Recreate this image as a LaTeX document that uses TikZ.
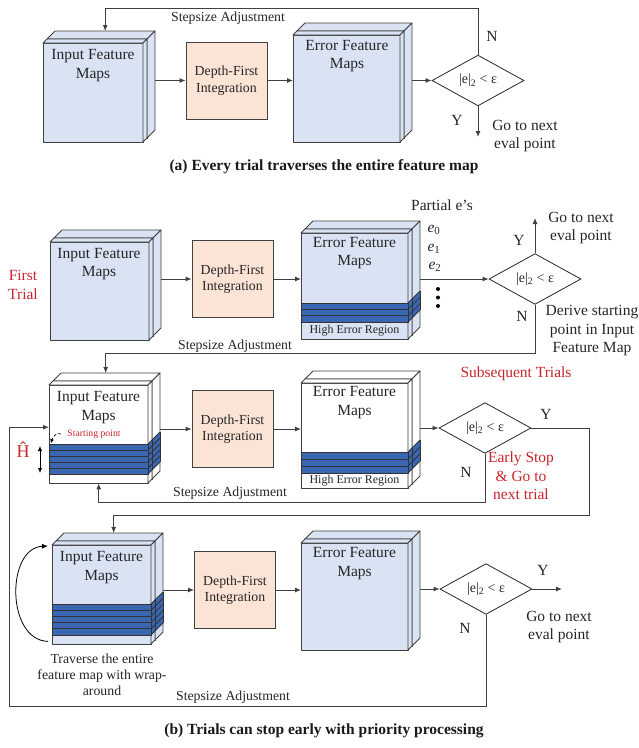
\documentclass[tikz,border=0pt]{standalone}
\usepackage{fontspec}
\setmainfont{Liberation Serif}
\usetikzlibrary{arrows.meta,shapes.geometric}

\definecolor{fmblue}{HTML}{DAE3F3}
\definecolor{dfpeach}{HTML}{FBE3D6}
\definecolor{hiblue}{HTML}{3A66B2}
\definecolor{trialred}{HTML}{C9252C}
\definecolor{linegray}{HTML}{404040}

% cuboide: x, y, largura, altura, profundidade, cor
\newcommand{\cuboide}[6]{%
  \draw[face,fill=#6] (#1,#2) rectangle ++(#3,#4);
  \draw[face,fill=#6] (#1,#2) -- ++(#5,-#5) -- ++(#3,0) -- ++(-#5,#5) -- cycle;
  \draw[face,fill=#6] ({#1+#3},#2) -- ++(#5,-#5) -- ++(0,#4) -- ++(-#5,#5) -- cycle;
}

% pilha de mapas: nome, x, y, largura, altura, cor
\newcommand{\pilha}[6]{%
  \cuboide{#2+4}{#3-4}{#4}{#5}{8}{#6}
  \cuboide{#2}{#3}{#4}{#5}{4}{#6}
  \node[inner sep=0pt,minimum width=#4,minimum height=#5,anchor=north west] (#1) at (#2,#3) {};
  \node[inner sep=0pt,minimum width=#4,minimum height=#5,anchor=north west] (#1-b) at (#2+12,#3-12) {};
}

% faixas de erro alto: x, y, largura, n, altura da faixa
\newcommand{\faixas}[5]{%
  \fill[hiblue] ({#1+#3},#2) -- ++(12,-12) -- ++(0,{#4*#5}) -- ++(-12,12) -- cycle;
  \foreach \k in {0,...,#4}{
    \draw[band] ({#1+#3},{#2+\k*#5}) -- ++(12,-12);
  }
  \draw[band] ({#1+#3+4},{#2-4}) -- ++(0,{#4*#5});
  \draw[band] ({#1+#3+12},{#2-12}) -- ++(0,{#4*#5});
  \foreach \k in {1,...,#4}{
    \draw[band,fill=hiblue] (#1,{#2+(\k-1)*#5}) rectangle ++(#3,#5);
  }
}

\begin{document}
\begin{tikzpicture}[x=1pt,y=-1pt]
\tikzset{
  face/.style={draw=linegray,line width=0.8pt,line join=round},
  band/.style={draw=black!80,line width=0.8pt},
  dfi/.style={draw=linegray,line width=0.9pt,fill=dfpeach,minimum width=81,minimum height=77,
    align=center,text=black!85,font=\fontsize{13.8}{16.5}\selectfont},
  decisao/.style={draw=black!85,line width=0.8pt,shape=diamond,minimum width=92,minimum height=42,
    inner sep=0pt,text=black!85,font=\fontsize{14}{16}\selectfont},
  arr/.style={draw=linegray,line width=0.9pt,-{Latex[length=6pt,width=5pt]}},
  dbl/.style={draw=black,line width=0.9pt,{Latex[length=5pt,width=4.5pt]}-{Latex[length=5pt,width=4.5pt]}},
  lbl/.style={text=black!85,font=\fontsize{15.5}{18.5}\selectfont,align=center},
  mid/.style={text=black!85,font=\fontsize{13.8}{16}\selectfont,align=center},
  small/.style={text=black!85,font=\fontsize{12}{14}\selectfont},
  rtxt/.style={text=trialred},
  captxt/.style={text=black!90,font=\bfseries\fontsize{15.5}{18}\selectfont}
}
\useasboundingbox (0,0) rectangle (639,748);

% (a) todas as tentativas percorrem o mapa inteiro
\pilha{inA}{43}{43}{100}{99}{fmblue}
\node[lbl] (tInA) at (93,65.5) {Input Feature\\Maps};
\node[dfi] (dfiA) at (226.5,80.5) {Depth-First\\Integration};
\pilha{errA}{293}{35}{107}{107}{fmblue}
\node[lbl] (tErrA) at (347,56) {Error Feature\\Maps};
\node[decisao] (decA) at (478,80.5) {|e|\textsubscript{2} < ε};

\draw[arr] (dfiA.west -| inA-b.east) -- (dfiA.west);
\draw[arr] (dfiA.east) -- (dfiA.east -| errA.west);
\draw[arr] (decA.west -| errA-b.east) -- (decA.west);

\coordinate (fbA) at (478,8);
\draw[arr] (decA.north) -- (fbA) -| (inA-b.north);
\node[mid] (sA) at (228,18) {Stepsize Adjustment};
\node[lbl] (nA) at (492,36) {N};
\coordinate (yA) at (478,137);
\draw[arr] (decA.south) -- (yA);
\node[lbl] (yAl) at (457,120) {Y};
\node[lbl] (goA) at (525,136) {Go to next\\eval point};
\node[captxt] (capA) at (324,167) {(a) Every trial traverses the entire feature map};

% (b) primeira tentativa
\pilha{inB}{50}{242}{99}{98}{fmblue}
\node[lbl] (tInB) at (99,264) {Input Feature\\Maps};
\node[lbl,rtxt] (first) at (23,285) {First\\Trial};
\node[dfi] (dfiB) at (232.5,279) {Depth-First\\Integration};
\pilha{errB}{301}{233}{107}{106}{fmblue}
\faixas{301}{303}{107}{3}{6.33}
\node[lbl] (tErrB) at (354.5,253) {Error Feature\\Maps};
\node[small] (hiB) at (354.5,331) {High Error Region};
\node[lbl] (partial) at (442,205) {Partial e’s};
\node[lbl] (e0) at (434,230) {\textit{e}\textsubscript{0}};
\node[lbl] (e1) at (434,249) {\textit{e}\textsubscript{1}};
\node[lbl] (e2) at (435,267) {\textit{e}\textsubscript{2}};
\fill[black] (438,289) circle[radius=2];
\fill[black] (438,297.5) circle[radius=2];
\fill[black] (438,306) circle[radius=2];
\node[decisao] (decB) at (535,279) {|e|\textsubscript{2} < ε};

\draw[arr] (dfiB.west -| inB-b.east) -- (dfiB.west);
\draw[arr] (dfiB.east) -- (dfiB.east -| errB.west);
\draw[arr] (decB.west -| errB-b.east) -- (decB.west);

\coordinate (yB) at (535,218);
\draw[arr] (decB.north) -- (yB);
\node[lbl] (yBl) at (519,240) {Y};
\node[lbl] (goB) at (581,228) {Go to next\\eval point};
\node[lbl] (nB) at (522,316) {N};
\node[lbl] (derive) at (592,331) {Derive starting\\point in Input\\Feature Map};
\node[mid] (sB) at (235,346) {Stepsize Adjustment};

% (b) tentativas seguintes
\node[lbl,rtxt] (subseq) at (516,374) {Subsequent Trials};
\pilha{inC}{49}{385}{99}{98}{white}
\faixas{49}{444}{99}{5}{6}
\node[lbl] (tInC) at (98.5,407.5) {Input Feature\\Maps};
\node[rtxt,font=\fontsize{9.7}{11}\selectfont] (start) at (94,434) {Starting point};
\draw[densely dashed,line width=0.7pt,-{Latex[length=4pt,width=4pt]}] ([xshift=-3pt]start.west) to[out=150,in=75] ([xshift=2pt,yshift=-9pt]inC.west);
\node[rtxt,font=\fontsize{18}{20}\selectfont] (hhat) at (23,450) {Ĥ};
\coordinate (hT) at (40,446);
\coordinate (hB) at (40,473);
\draw[dbl] (hT) -- (hB);
\node[dfi] (dfiC) at (232.5,429) {Depth-First\\Integration};
\pilha{errC}{301}{383}{107}{105}{white}
\faixas{301}{452}{107}{3}{7}
\node[lbl] (tErrC) at (354.5,402.5) {Error Feature\\Maps};
\node[small] (hiC) at (354.5,481) {High Error Region};
\node[decisao] (decC) at (485,428) {|e|\textsubscript{2} < ε};

\coordinate (fbB) at (535,353);
\draw[arr] (decB.south) -- (fbB) -| ([xshift=-5pt]inC-b.north);

\draw[arr] (dfiC.west -| inC-b.east) -- (dfiC.west);
\draw[arr] (dfiC.east) -- (dfiC.east -| errC.west);
\draw[arr] (decC.west -| errC-b.east) -- (decC.west);

\node[lbl] (yCl) at (546,414) {Y};
\node[lbl] (nCl) at (466,472) {N};
\node[lbl,rtxt] (early) at (521,476) {Early Stop\\\& Go to\\next trial};
\coordinate (nC) at (485,502);
\draw[arr] (decC.south) -- (nC) -| (inC.south);
\node[mid] (sC) at (230,493) {Stepsize Adjustment};

% (b) volta completa
\pilha{inD}{52}{545}{99}{99}{fmblue}
\faixas{52}{604}{99}{5}{6.2}
\node[lbl] (tInD) at (101.5,567.5) {Input Feature\\Maps};
\draw[arr,draw=black,line width=0.8pt] ([xshift=-4pt,yshift=3pt]inD.south west) .. controls (6,640) and (6,548) .. ([xshift=-4pt,yshift=-1pt]inD.north west);
\node[mid] (trav) at (102,675) {Traverse the entire\\feature map with wrap-\\around};
\node[dfi] (dfiD) at (235,590) {Depth-First\\Integration};
\pilha{errD}{301}{543}{107}{107}{fmblue}
\node[lbl] (tErrD) at (354.5,563.5) {Error Feature\\Maps};
\node[decisao] (decD) at (486,589) {|e|\textsubscript{2} < ε};

\coordinate (yC) at (589,515);
\draw[arr] (decC.east) -| (yC) -| (inD-b.north);

\draw[arr] (dfiD.west -| inD-b.east) -- (dfiD.west);
\draw[arr] (dfiD.east) -- (dfiD.east -| errD.west);
\draw[arr] (decD.west -| errD-b.east) -- (decD.west);

\coordinate (yD) at (562,589);
\draw[arr] (decD.east) -- (yD);
\node[lbl] (yDl) at (543,570) {Y};
\node[lbl] (goD) at (559,627) {Go to next\\eval point};
\node[lbl] (nDl) at (465,628) {N};
\coordinate (nD) at (486,706);
\coordinate (lpD) at (9,706);
\draw[arr] (decD.south) -- (nD) -- (lpD) |- ([yshift=7pt]inC.west);
\node[mid] (sD) at (233,697) {Stepsize Adjustment};
\node[captxt] (capB) at (324,731) {(b) Trials can stop early with priority processing};
\end{tikzpicture}
\end{document}
